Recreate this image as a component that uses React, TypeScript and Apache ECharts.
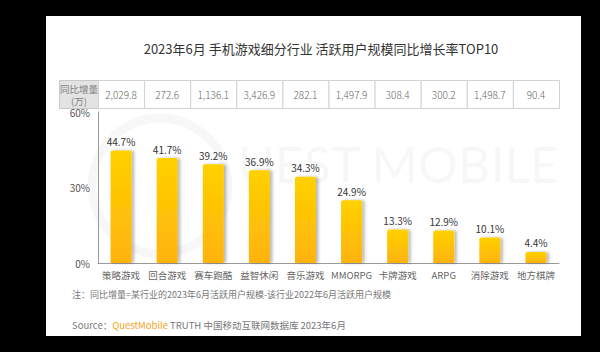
import React, { useEffect, useRef } from "react";
import * as echarts from "echarts";

const categories = ["策略游戏", "回合游戏", "赛车跑酷", "益智休闲", "音乐游戏", "MMORPG", "卡牌游戏", "ARPG", "消除游戏", "地方棋牌"];
const growthRate = [44.7, 41.7, 39.2, 36.9, 34.3, 24.9, 13.3, 12.9, 10.1, 4.4];
const increaseLabels = ["2,029.8", "272.6", "1,136.1", "3,426.9", "282.1", "1,497.9", "308.4", "300.2", "1,498.7", "90.4"];
const yMin = 0;
const yMax = 60;
const yInterval = 30;

const titleText = "2023年6月 手机游戏细分行业 活跃用户规模同比增长率TOP10";
const tableHeader = "同比增量\n(万)";
const noteText = "注：同比增量=某行业的2023年6月活跃用户规模-该行业2022年6月活跃用户规模";
const sourcePrefix = "Source：";
const sourceBrand = "QuestMobile";
const sourceSuffix = " TRUTH 中国移动互联网数据库 2023年6月";
const watermarkText = "UEST MOBILE";

const FONT = "'Noto Sans CJK SC', 'Noto Sans', sans-serif";
const GRID_LEFT = 98;
const GRID_WIDTH = 461;
const GRID_TOP = 112;
const GRID_HEIGHT = 151;
const TABLE_TOP = 80;
const TABLE_H = 28;
const HEADER_LEFT = 59;

export default function App() {
  const ref = useRef<HTMLDivElement>(null);
  useEffect(() => {
    if (!ref.current) return;
    const chart = echarts.init(ref.current, undefined, { renderer: "svg" });
    const band = GRID_WIDTH / categories.length;

    const tableEls: any[] = [];
    tableEls.push({
      type: "rect",
      z: 1,
      shape: { x: HEADER_LEFT + 0.5, y: TABLE_TOP + 0.5, width: GRID_LEFT - HEADER_LEFT, height: TABLE_H },
      style: { fill: "#e3e3e3", stroke: "#c9c9c9", lineWidth: 1 },
    });
    tableEls.push({
      type: "text",
      z: 2,
      x: (HEADER_LEFT + GRID_LEFT) / 2 + 0.5,
      y: TABLE_TOP + TABLE_H / 2 + 0.5,
      style: {
        text: tableHeader,
        fontFamily: FONT,
        fontSize: 9.5,
        lineHeight: 12,
        fill: "#808080",
        align: "center",
        verticalAlign: "middle",
      },
    });
    increaseLabels.forEach((v, i) => {
      tableEls.push({
        type: "rect",
        z: 1,
        shape: { x: GRID_LEFT + i * band + 0.5, y: TABLE_TOP + 0.5, width: band, height: TABLE_H },
        style: { fill: "#fff", stroke: "#d2d2d2", lineWidth: 1 },
      });
      tableEls.push({
        type: "text",
        z: 2,
        x: GRID_LEFT + (i + 0.5) * band,
        y: TABLE_TOP + TABLE_H / 2 + 0.5,
        style: {
          text: v,
          fontFamily: FONT,
          fontSize: 10,
          fontWeight: 300,
          fill: "#666",
          align: "center",
          verticalAlign: "middle",
        },
      });
    });

    chart.setOption({
      animation: false,
      backgroundColor: "#000",
      title: {
        text: titleText,
        left: 316,
        top: 37,
        textAlign: "center",
        textStyle: { fontFamily: FONT, fontSize: 13, fontWeight: "normal", color: "#333" },
      },
      graphic: [
        {
          type: "rect",
          z: -10,
          silent: true,
          shape: { x: 46, y: 16, width: 535, height: 320 },
          style: { fill: "#fff" },
        },
        {
          type: "arc",
          z: -5,
          silent: true,
          shape: { cx: 160, cy: 186, r: 68, startAngle: 0, endAngle: Math.PI * 2 },
          style: { stroke: "rgba(0,0,0,0.03)", lineWidth: 9, fill: "none" },
        },
        {
          type: "text",
          z: -5,
          silent: true,
          x: 238,
          y: 164,
          style: {
            text: watermarkText,
            fontFamily: "Lato, 'Noto Sans', sans-serif",
            fontSize: 50,
            fontWeight: "normal",
            fill: "rgba(0,0,0,0.03)",
            verticalAlign: "middle",
          },
        },
        ...tableEls,
        {
          type: "text",
          z: 2,
          x: 72,
          y: 294,
          style: { text: noteText, fontFamily: FONT, fontSize: 9, fill: "#777", verticalAlign: "middle" },
        },
        {
          type: "text",
          z: 2,
          x: 72,
          y: 325,
          style: {
            text: `{a|${sourcePrefix}}{b|${sourceBrand}}{a|${sourceSuffix}}`,
            verticalAlign: "middle",
            rich: {
              a: { fontFamily: FONT, fontSize: 9.5, fill: "#777", color: "#777" },
              b: { fontFamily: FONT, fontSize: 9.5, fill: "#F5A31A", color: "#F5A31A" },
            },
          },
        },
      ],
      grid: { left: GRID_LEFT, top: GRID_TOP, width: GRID_WIDTH, height: GRID_HEIGHT },
      xAxis: {
        type: "category",
        data: categories,
        axisLine: { show: true, lineStyle: { color: "#9a9a9a", width: 1 } },
        axisTick: { show: false },
        axisLabel: { fontFamily: FONT, fontSize: 9.5, color: "#666", margin: 7, interval: 0 },
      },
      yAxis: {
        type: "value",
        min: yMin,
        max: yMax,
        interval: yInterval,
        axisLine: { show: true, lineStyle: { color: "#9a9a9a", width: 1 } },
        axisTick: { show: false },
        splitLine: { show: false },
        axisLabel: { fontFamily: FONT, fontSize: 10, color: "#555", margin: 8, formatter: "{value}%" },
      },
      series: [
        {
          type: "bar",
          data: growthRate,
          barWidth: 21,
          itemStyle: {
            borderRadius: [2, 2, 0, 0],
            color: new echarts.graphic.LinearGradient(0, 0, 0, 1, [
              { offset: 0, color: "#FFD100" },
              { offset: 1, color: "#FFB30D" },
            ]),
            shadowColor: "rgba(0,0,0,0.28)",
            shadowBlur: 3,
            shadowOffsetX: 2.5,
            shadowOffsetY: 0,
          },
          label: {
            show: true,
            position: "top",
            distance: 4,
            formatter: "{c}%",
            fontFamily: FONT,
            fontSize: 10,
            color: "#333",
          },
        },
      ],
    });
    return () => chart.dispose();
  }, []);
  return (
    <div style={{ position: "absolute", left: 0, top: 0, width: 600, height: 352, background: "#000" }}>
      <div ref={ref} style={{ width: 600, height: 352 }} />
    </div>
  );
}
